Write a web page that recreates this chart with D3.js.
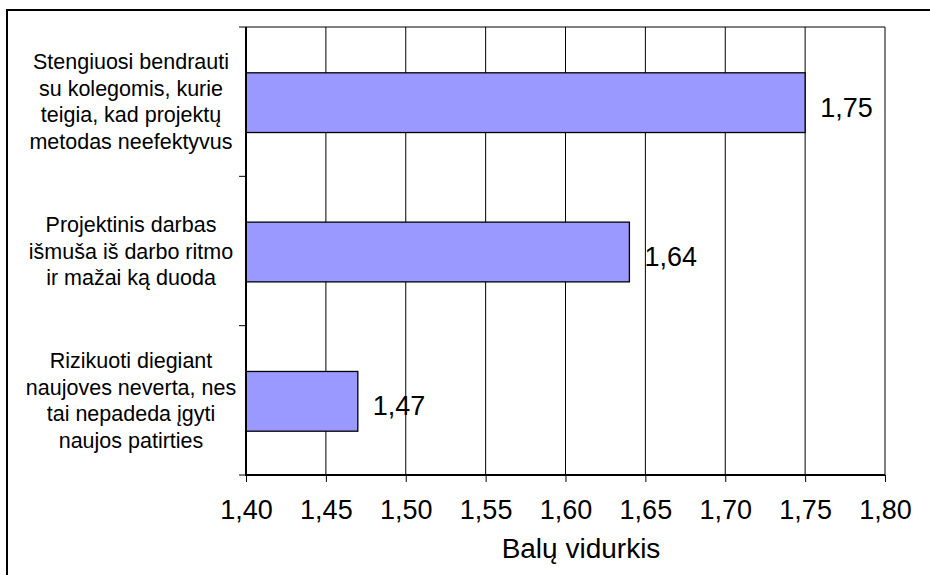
<!DOCTYPE html>
<html>
<head>
<meta charset="utf-8">
<script src="https://cdn.jsdelivr.net/npm/d3@7"></script>
<style>
  body { margin: 0; background: #fff; }
  svg { display: block; font-family: "Liberation Sans", Arial, sans-serif; }
</style>
</head>
<body>
<div id="chart"></div>
<script>
var categories = [
  ["Stengiuosi bendrauti", "su kolegomis, kurie", "teigia, kad projektų", "metodas neefektyvus"],
  ["Projektinis darbas", "išmuša iš darbo ritmo", "ir mažai ką duoda"],
  ["Rizikuoti diegiant", "naujoves neverta, nes", "tai nepadeda įgyti", "naujos patirties"]
]
var values = [1.75, 1.64, 1.47]
var valueLabels = ["1,75", "1,64", "1,47"]
var xTicks = [1.40, 1.45, 1.50, 1.55, 1.60, 1.65, 1.70, 1.75, 1.80]
var xTitle = "Balų vidurkis"

var W = 930, H = 575
var plot = {left: 246, right: 885, top: 27, bottom: 475}

var svg = d3.select("#chart").append("svg")
    .attr("width", W)
    .attr("height", H)

// outer frame
svg.append("rect")
  .attr("x", 7).attr("y", 10)
  .attr("width", 940).attr("height", 620)
  .attr("fill", "none")
  .attr("stroke", "#000")
  .attr("stroke-width", 2)

var x = d3.scaleLinear().domain([1.40, 1.80]).range([plot.left, plot.right])
var y = d3.scaleBand().domain(d3.range(categories.length)).range([plot.top, plot.bottom]).padding(0)

// grid lines
svg.append("g")
  .selectAll("line")
  .data(xTicks.slice(1))
  .enter().append("line")
    .attr("x1", function(d) { return x(d) })
    .attr("x2", function(d) { return x(d) })
    .attr("y1", plot.top)
    .attr("y2", plot.bottom)
    .attr("stroke", "#000")
    .attr("stroke-width", 1)

// top border of plot
svg.append("line")
  .attr("x1", plot.left).attr("x2", plot.right)
  .attr("y1", plot.top).attr("y2", plot.top)
  .attr("stroke", "#000").attr("stroke-width", 1)

// bars
var barH = y.bandwidth() * 0.4
svg.append("g")
  .selectAll("rect")
  .data(values)
  .enter().append("rect")
    .attr("x", x(1.40))
    .attr("y", function(d, i) { return y(i) + y.bandwidth() / 2 - barH / 2 + 1 })
    .attr("width", function(d) { return x(d) - x(1.40) })
    .attr("height", barH)
    .attr("fill", "#9999ff")
    .attr("stroke", "#000")
    .attr("stroke-width", 1.3)

// value labels
svg.append("g")
  .selectAll("text")
  .data(values)
  .enter().append("text")
    .attr("x", function(d) { return x(d) + 15 })
    .attr("y", function(d, i) { return y(i) + y.bandwidth() / 2 + 15 })
    .attr("font-size", 27)
    .attr("fill", "#000")
    .text(function(d, i) { return valueLabels[i] })

// x axis
var xAxis = d3.axisBottom(x)
    .tickValues(xTicks)
    .tickSize(7)
    .tickFormat(function(d) { return d3.format(".2f")(d).replace(".", ",") })

var gx = svg.append("g")
  .attr("transform", "translate(0," + plot.bottom + ")")
  .call(xAxis)
gx.select(".domain").attr("stroke", "#000").attr("stroke-width", 2)
  .attr("d", "M" + (plot.left - 1) + ",0H" + plot.right)
gx.selectAll(".tick line").attr("stroke", "#000")
gx.selectAll(".tick text")
  .attr("font-size", 27)
  .attr("font-family", "Liberation Sans, Arial, sans-serif")
  .attr("fill", "#000")
  .attr("y", 25)
  .attr("dy", "0.71em")

// y axis (ticks at category boundaries)
var yEdges = d3.range(categories.length).map(function(i) { return y(i) }).concat([plot.bottom])
svg.append("g")
  .selectAll("line")
  .data(yEdges)
  .enter().append("line")
    .attr("x1", plot.left - 7)
    .attr("x2", plot.left)
    .attr("y1", function(d) { return d })
    .attr("y2", function(d) { return d })
    .attr("stroke", "#000")
    .attr("stroke-width", 1)

svg.append("line")
  .attr("x1", plot.left).attr("x2", plot.left)
  .attr("y1", plot.top).attr("y2", plot.bottom + 1)
  .attr("stroke", "#000").attr("stroke-width", 2)

// category labels
var lineH = 26.5
svg.append("g")
  .selectAll("text")
  .data(categories)
  .enter().append("text")
    .attr("text-anchor", "middle")
    .attr("font-size", 21.5)
    .attr("fill", "#000")
    .each(function(lines, i) {
      var cy = y(i) + y.bandwidth() / 2
      var first = cy - (lines.length - 1) * lineH / 2 + 7.5
      d3.select(this).selectAll("tspan")
        .data(lines)
        .enter().append("tspan")
          .attr("x", 131)
          .attr("y", function(d, j) { return first + j * lineH })
          .text(function(d) { return d })
    })

// axis title
svg.append("text")
  .attr("x", 581)
  .attr("y", 558)
  .attr("text-anchor", "middle")
  .attr("font-size", 28)
  .attr("fill", "#000")
  .text(xTitle)
</script>
</body>
</html>
